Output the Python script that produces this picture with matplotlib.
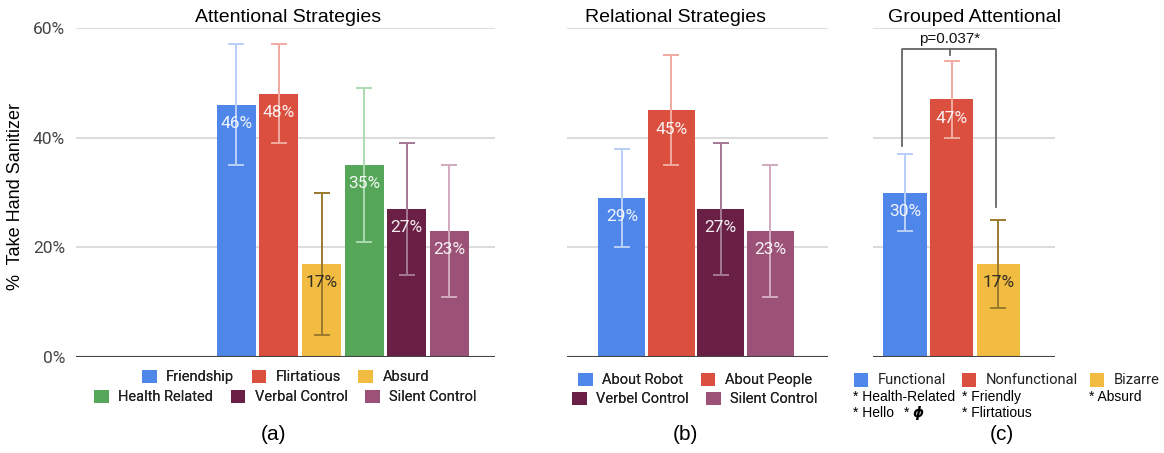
import matplotlib.pyplot as plt
from matplotlib.patches import Patch

# --- Datos ----------------------------------------------------------------------
att_labels = ["Friendship", "Flirtatious", "Absurd",
              "Health Related", "Verbal Control", "Silent Control"]
att_values = [46, 48, 17, 35, 27, 23]
att_err = [11, 9, 13, 14, 12, 12]

rel_labels = ["About Robot", "About People", "Verbel Control", "Silent Control"]
rel_values = [29, 45, 27, 23]
rel_err = [9, 10, 12, 12]

grp_labels = ["Functional", "Nonfunctional", "Bizarre"]
grp_values = [30, 47, 17]
grp_err = [7, 7, 8]
p_text = "p=0.037*"

yticks = [0, 20, 40, 60]

# --- Colores --------------------------------------------------------------------
BLUE, RED, YELLOW = "#4e86ea", "#db4f3f", "#f2bb41"
GREEN, PLUM, MAUVE = "#57a75b", "#6a2044", "#9c5277"
ERR = {BLUE: "#b9cff8", RED: "#f1aaa1", YELLOW: "#9a7a2c",
       GREEN: "#acdab1", PLUM: "#a57893", MAUVE: "#d2a9bd"}

att_colors = [BLUE, RED, YELLOW, GREEN, PLUM, MAUVE]
rel_colors = [BLUE, RED, PLUM, MAUVE]
grp_colors = [BLUE, RED, YELLOW]

plt.rcParams["font.family"] = ["Roboto", "DejaVu Sans"]

W, H = 1164, 453
fig = plt.figure(figsize=(W / 100, H / 100), dpi=100)


def px_axes(x0, x1, y_top, y_bot):
    return fig.add_axes([x0 / W, 1 - y_bot / H, (x1 - x0) / W, (y_bot - y_top) / H])


def panel(ax, values, errs, colors, width, xlim):
    xs = range(len(values))
    ax.bar(xs, values, width=width, color=colors, zorder=2)
    for x, v, e, c in zip(xs, values, errs, colors):
        ax.errorbar(x, v, yerr=e, color=ERR[c], capsize=6, elinewidth=1.4,
                    capthick=1.4, zorder=3)
        txt_col = "#222222" if c == YELLOW else "white"
        ax.annotate(f"{v}%", (x, v), xytext=(0, -13.5), textcoords="offset points",
                    ha="center", va="center", fontsize=12.5, color=txt_col,
                    alpha=0.92, zorder=4)
    ax.set_xlim(*xlim)
    ax.set_ylim(0, 60)
    ax.set_yticks(yticks)
    ax.grid(axis="y", color="#d6d6d6", linewidth=1.2, zorder=0)
    ax.axhline(0, color="#444444", linewidth=1.5, zorder=5)
    ax.set_xticks([])
    for s in ax.spines.values():
        s.set_visible(False)
    ax.tick_params(axis="y", length=0, labelleft=False)


# (a) Attentional Strategies
ax_a = px_axes(76, 495, 28, 357)
panel(ax_a, att_values, att_err, att_colors, 0.91, (-3.76, 6.07))
ax_a.tick_params(axis="y", labelleft=True, labelsize=12.5, labelcolor="#444444", pad=8)
ax_a.set_yticklabels([f"{t}%" for t in yticks])
fig.text(16 / W, 1 - 197 / H, "%  Take Hand Sanitizer", fontsize=13,
         family="Liberation Sans", rotation=90, ha="center", va="center")

# (b) Relational Strategies
ax_b = px_axes(567, 828, 28, 357)
panel(ax_b, rel_values, rel_err, rel_colors, 0.95, (-1.11, 4.17))

# (c) Grouped Attentional
ax_c = px_axes(873, 1055, 28, 357)
panel(ax_c, grp_values, grp_err, grp_colors, 0.93, (-0.68, 3.21))

# corchete de significación entre Functional/Nonfunctional/Bizarre
top = 56.2
br = dict(color="#666666", linewidth=1.3, zorder=6, clip_on=False)
ax_c.plot([-0.05, -0.05, 1.95, 1.95], [38.4, top, top, 27.3], **br)
ax_c.plot([0.96, 0.96], [top, 55.0], **br)
ax_c.text(0.96, top + 0.6, p_text, ha="center", va="bottom", fontsize=11,
          family="Liberation Sans", color="#111111")

# títulos
title_kw = dict(fontsize=14, family="Liberation Sans", color="black",
                ha="center", va="center")
fig.text(288 / W, 1 - 17 / H, "Attentional Strategies", **title_kw)
fig.text(675 / W, 1 - 17 / H, "Relational Strategies", **title_kw)
fig.text(974 / W, 1 - 17 / H, "Grouped Attentional", **title_kw)


# leyendas, una fila por llamada para centrarlas como en Sheets
def legend_row(labels, colors, cx, cy):
    handles = [Patch(facecolor=c, edgecolor="none") for c in colors]
    lg = fig.legend(handles, labels, loc="center", bbox_to_anchor=(cx / W, 1 - cy / H),
                    ncol=len(labels), frameon=False, fontsize=10.5,
                    handlelength=1.0, handleheight=1.0, handletextpad=0.65,
                    columnspacing=1.2, borderpad=0, labelcolor="#222222")
    return lg


for lg in [
    legend_row(att_labels[:3], att_colors[:3], 285.5, 377),
    legend_row(att_labels[3:], att_colors[3:], 285.5, 397),
    legend_row(rel_labels[:2], rel_colors[:2], 695, 380),
    legend_row(rel_labels[2:], rel_colors[2:], 695, 399),
]:
    fig.add_artist(lg)

# leyenda agrupada de (c) con sus componentes
for lab, c, mx in zip(grp_labels, grp_colors, [861, 969, 1097]):
    fig.patches.append(plt.Rectangle(((mx - 7) / W, 1 - (380 + 7) / H), 14 / W, 14 / H,
                                     facecolor=c, edgecolor="none",
                                     transform=fig.transFigure, figure=fig))
    fig.text((mx + 17) / W, 1 - 380 / H, lab, fontsize=10.5, color="#222222",
             ha="left", va="center")

sub_kw = dict(fontsize=10, family="Liberation Sans", color="black",
              ha="left", va="center")
fig.text(853 / W, 1 - 397 / H, "* Health-Related", **sub_kw)
fig.text(853 / W, 1 - 413 / H, "* Hello", **sub_kw)
fig.text(904 / W, 1 - 413 / H, "* ", **sub_kw)
fig.text(912 / W, 1 - 413 / H, r"$\boldsymbol{\phi}$", fontsize=10, color="black",
         ha="left", va="center")
fig.text(962 / W, 1 - 397 / H, "* Friendly", **sub_kw)
fig.text(962 / W, 1 - 413 / H, "* Flirtatious", **sub_kw)
fig.text(1089 / W, 1 - 397 / H, "* Absurd", **sub_kw)

# rótulos de subfigura
cap_kw = dict(fontsize=15, family="Liberation Sans", ha="center", va="center")
fig.text(273 / W, 1 - 435 / H, "(a)", **cap_kw)
fig.text(685 / W, 1 - 435 / H, "(b)", **cap_kw)
fig.text(1002 / W, 1 - 434 / H, "(c)", **cap_kw)

fig.savefig("out.png", dpi=100)
